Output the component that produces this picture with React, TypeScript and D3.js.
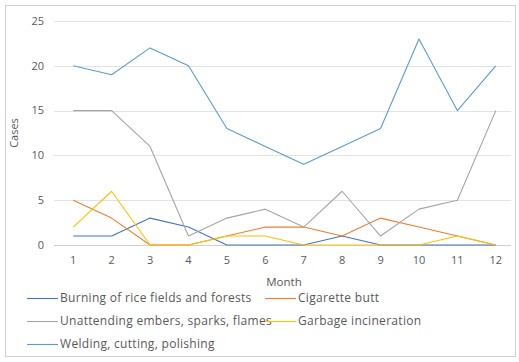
import React, { useEffect, useRef } from "react";
import * as d3 from "d3";

const months = ["1", "2", "3", "4", "5", "6", "7", "8", "9", "10", "11", "12"];
const yTicks = [0, 5, 10, 15, 20, 25];

const seriesNames = [
  "Burning of rice fields and forests",
  "Cigarette butt",
  "Unattending embers, sparks, flames",
  "Garbage incineration",
  "Welding, cutting, polishing",
];
const seriesColors = ["#4472C4", "#ED7D31", "#A5A5A5", "#FFC000", "#5B9BD5"];

const burning = [1, 1, 3, 2, 0, 0, 0, 1, 0, 0, 0, 0];
const cigarette = [5, 3, 0, 0, 1, 2, 2, 1, 3, 2, 1, 0];
const unattending = [15, 15, 11, 1, 3, 4, 2, 6, 1, 4, 5, 15];
const garbage = [2, 6, 0, 0, 1, 1, 0, 0, 0, 0, 1, 0];
const welding = [20, 19, 22, 20, 13, 11, 9, 11, 13, 23, 15, 20];

const seriesValues = [burning, cigarette, unattending, garbage, welding];

const FONT = "'Open Sans', 'Noto Sans', sans-serif";

const App: React.FC = () => {
  const svgRef = useRef<SVGSVGElement | null>(null);

  useEffect(() => {
    if (!svgRef.current) return;
    const svg = d3.select(svgRef.current);
    svg.selectAll("*").remove();

    const margin = { top: 21, right: 515, bottom: 245, left: 54 };

    svg
      .append("rect")
      .attr("x", 5.5)
      .attr("y", 5.5)
      .attr("width", 510)
      .attr("height", 351)
      .attr("fill", "#fff")
      .attr("stroke", "#d0d0d0");

    const x = d3
      .scalePoint<string>()
      .domain(months)
      .range([margin.left, margin.right])
      .padding(0.5);

    const y = d3
      .scaleLinear()
      .domain([0, 25])
      .range([margin.bottom, margin.top]);

    // gridlines
    svg
      .append("g")
      .selectAll("line")
      .data(yTicks)
      .enter()
      .append("line")
      .attr("x1", margin.left)
      .attr("x2", 511)
      .attr("y1", (d) => Math.round(y(d)) + 0.5)
      .attr("y2", (d) => Math.round(y(d)) + 0.5)
      .attr("stroke", (d) => (d === 0 ? "#d0d0d0" : "#e3e3e3"))
      .attr("stroke-width", 1);

    // y tick labels
    svg
      .append("g")
      .selectAll("text")
      .data(yTicks)
      .enter()
      .append("text")
      .attr("x", 44)
      .attr("y", (d) => y(d))
      .attr("dy", "0.35em")
      .attr("text-anchor", "end")
      .attr("font-family", FONT)
      .attr("font-size", 11)
      .attr("fill", "#595959")
      .text((d) => String(d));

    // x tick labels
    svg
      .append("g")
      .selectAll("text")
      .data(months)
      .enter()
      .append("text")
      .attr("x", (d) => x(d)!)
      .attr("y", 264)
      .attr("text-anchor", "middle")
      .attr("font-family", FONT)
      .attr("font-size", 11)
      .attr("fill", "#595959")
      .text((d) => d);

    // axis titles
    svg
      .append("text")
      .attr("x", 284)
      .attr("y", 286)
      .attr("text-anchor", "middle")
      .attr("font-family", FONT)
      .attr("font-size", 11.5)
      .attr("fill", "#595959")
      .text("Month");

    svg
      .append("text")
      .attr("transform", "translate(18,133) rotate(-90)")
      .attr("text-anchor", "middle")
      .attr("font-family", FONT)
      .attr("font-size", 11)
      .attr("fill", "#595959")
      .text("Cases");

    const line = d3
      .line<number>()
      .x((_, i) => x(months[i])!)
      .y((d) => y(d));

    svg
      .append("g")
      .selectAll("path")
      .data(seriesValues)
      .enter()
      .append("path")
      .attr("d", (d) => line(d))
      .attr("fill", "none")
      .attr("stroke", (_, i) => seriesColors[i])
      .attr("stroke-width", 1.1)
      .attr("stroke-linejoin", "round");

    // legend
    const legendPos = [
      [27, 298],
      [265, 298],
      [27, 321],
      [265, 321],
      [27, 344],
    ];
    const legend = svg
      .append("g")
      .selectAll("g")
      .data(seriesNames)
      .enter()
      .append("g")
      .attr("transform", (_, i) => `translate(${legendPos[i][0]},${legendPos[i][1]})`);

    legend
      .append("line")
      .attr("x1", 0)
      .attr("x2", 31)
      .attr("y1", 0.5)
      .attr("y2", 0.5)
      .attr("stroke", (_, i) => seriesColors[i])
      .attr("stroke-width", 1.1);

    legend
      .append("text")
      .attr("x", 33)
      .attr("y", 0)
      .attr("dy", "0.35em")
      .attr("font-family", FONT)
      .attr("font-size", 12)
      .attr("letter-spacing", 0.3)
      .attr("fill", "#595959")
      .text((d) => d);
  }, []);

  return (
    <svg
      ref={svgRef}
      width={519}
      height={362}
      style={{ position: "absolute", left: 0, top: 0 }}
    ></svg>
  );
};

export default App;
